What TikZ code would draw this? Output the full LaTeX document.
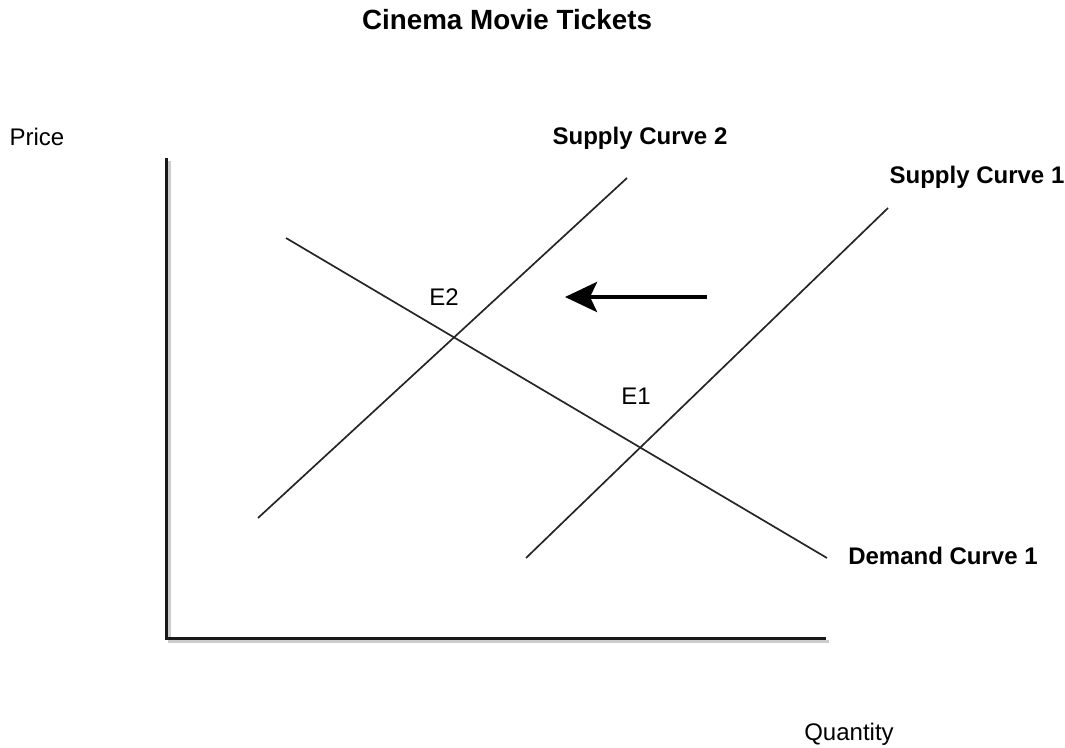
\documentclass[tikz,border=0pt]{standalone}
\usepackage{fontspec}
\setmainfont{Liberation Sans}
\usetikzlibrary{arrows.meta}
\begin{document}
\begin{tikzpicture}[x=1pt,y=-1pt,
  lbl/.style={font=\fontsize{24}{27}\selectfont, inner sep=0pt, anchor=center},
  blbl/.style={lbl, font=\fontsize{24}{27}\selectfont\bfseries},
  curve/.style={line width=1.7pt, black!85},
  axis/.style={line width=3pt, black!90},
  axshadow/.style={line width=3pt, black!20},
  shiftarrow/.style={line width=4.5pt, -{Stealth[length=32pt,width=30pt,inset=7pt]}}]
\useasboundingbox (0,0) rectangle (1065,747);
% title and axis labels
\node[lbl, font=\fontsize{27.8}{31}\selectfont\bfseries] (title) at (507,20) {Cinema Movie Tickets};
\node[lbl] (price) at (37,137) {Price};
\node[lbl] (qty) at (849,734) {Quantity};
% axes
\coordinate (top) at (166,158);
\coordinate (origin) at (166,638);
\coordinate (right) at (826,638);
\coordinate (topS) at (169,161);
\coordinate (originS) at (169,641);
\coordinate (rightS) at (829,641);
\draw[axshadow] (topS) -- (originS) -- (rightS);
\draw[axis] (top) -- (origin) -- (right);
% curves
\coordinate (s2a) at (258,518);
\coordinate (s2b) at (627,178);
\coordinate (s1a) at (526,558);
\coordinate (s1b) at (888,208);
\coordinate (da) at (286,238);
\coordinate (db) at (827,558);
\draw[curve] (s2a) -- (s2b);
\draw[curve] (s1a) -- (s1b);
\draw[curve] (da) -- (db);
% labels
\node[blbl] (sc2) at (640,138) {Supply Curve 2};
\node[blbl] (sc1) at (977,177) {Supply Curve 1};
\node[blbl] (dc1) at (943,556) {Demand Curve 1};
\node[lbl] (e2) at (444,297) {E2};
\node[lbl] (e1) at (636,396) {E1};
% shift arrow
\coordinate (arrtail) at (707,297);
\coordinate (arrhead) at (565,297);
\draw[shiftarrow] (arrtail) -- (arrhead);
\end{tikzpicture}
\end{document}
